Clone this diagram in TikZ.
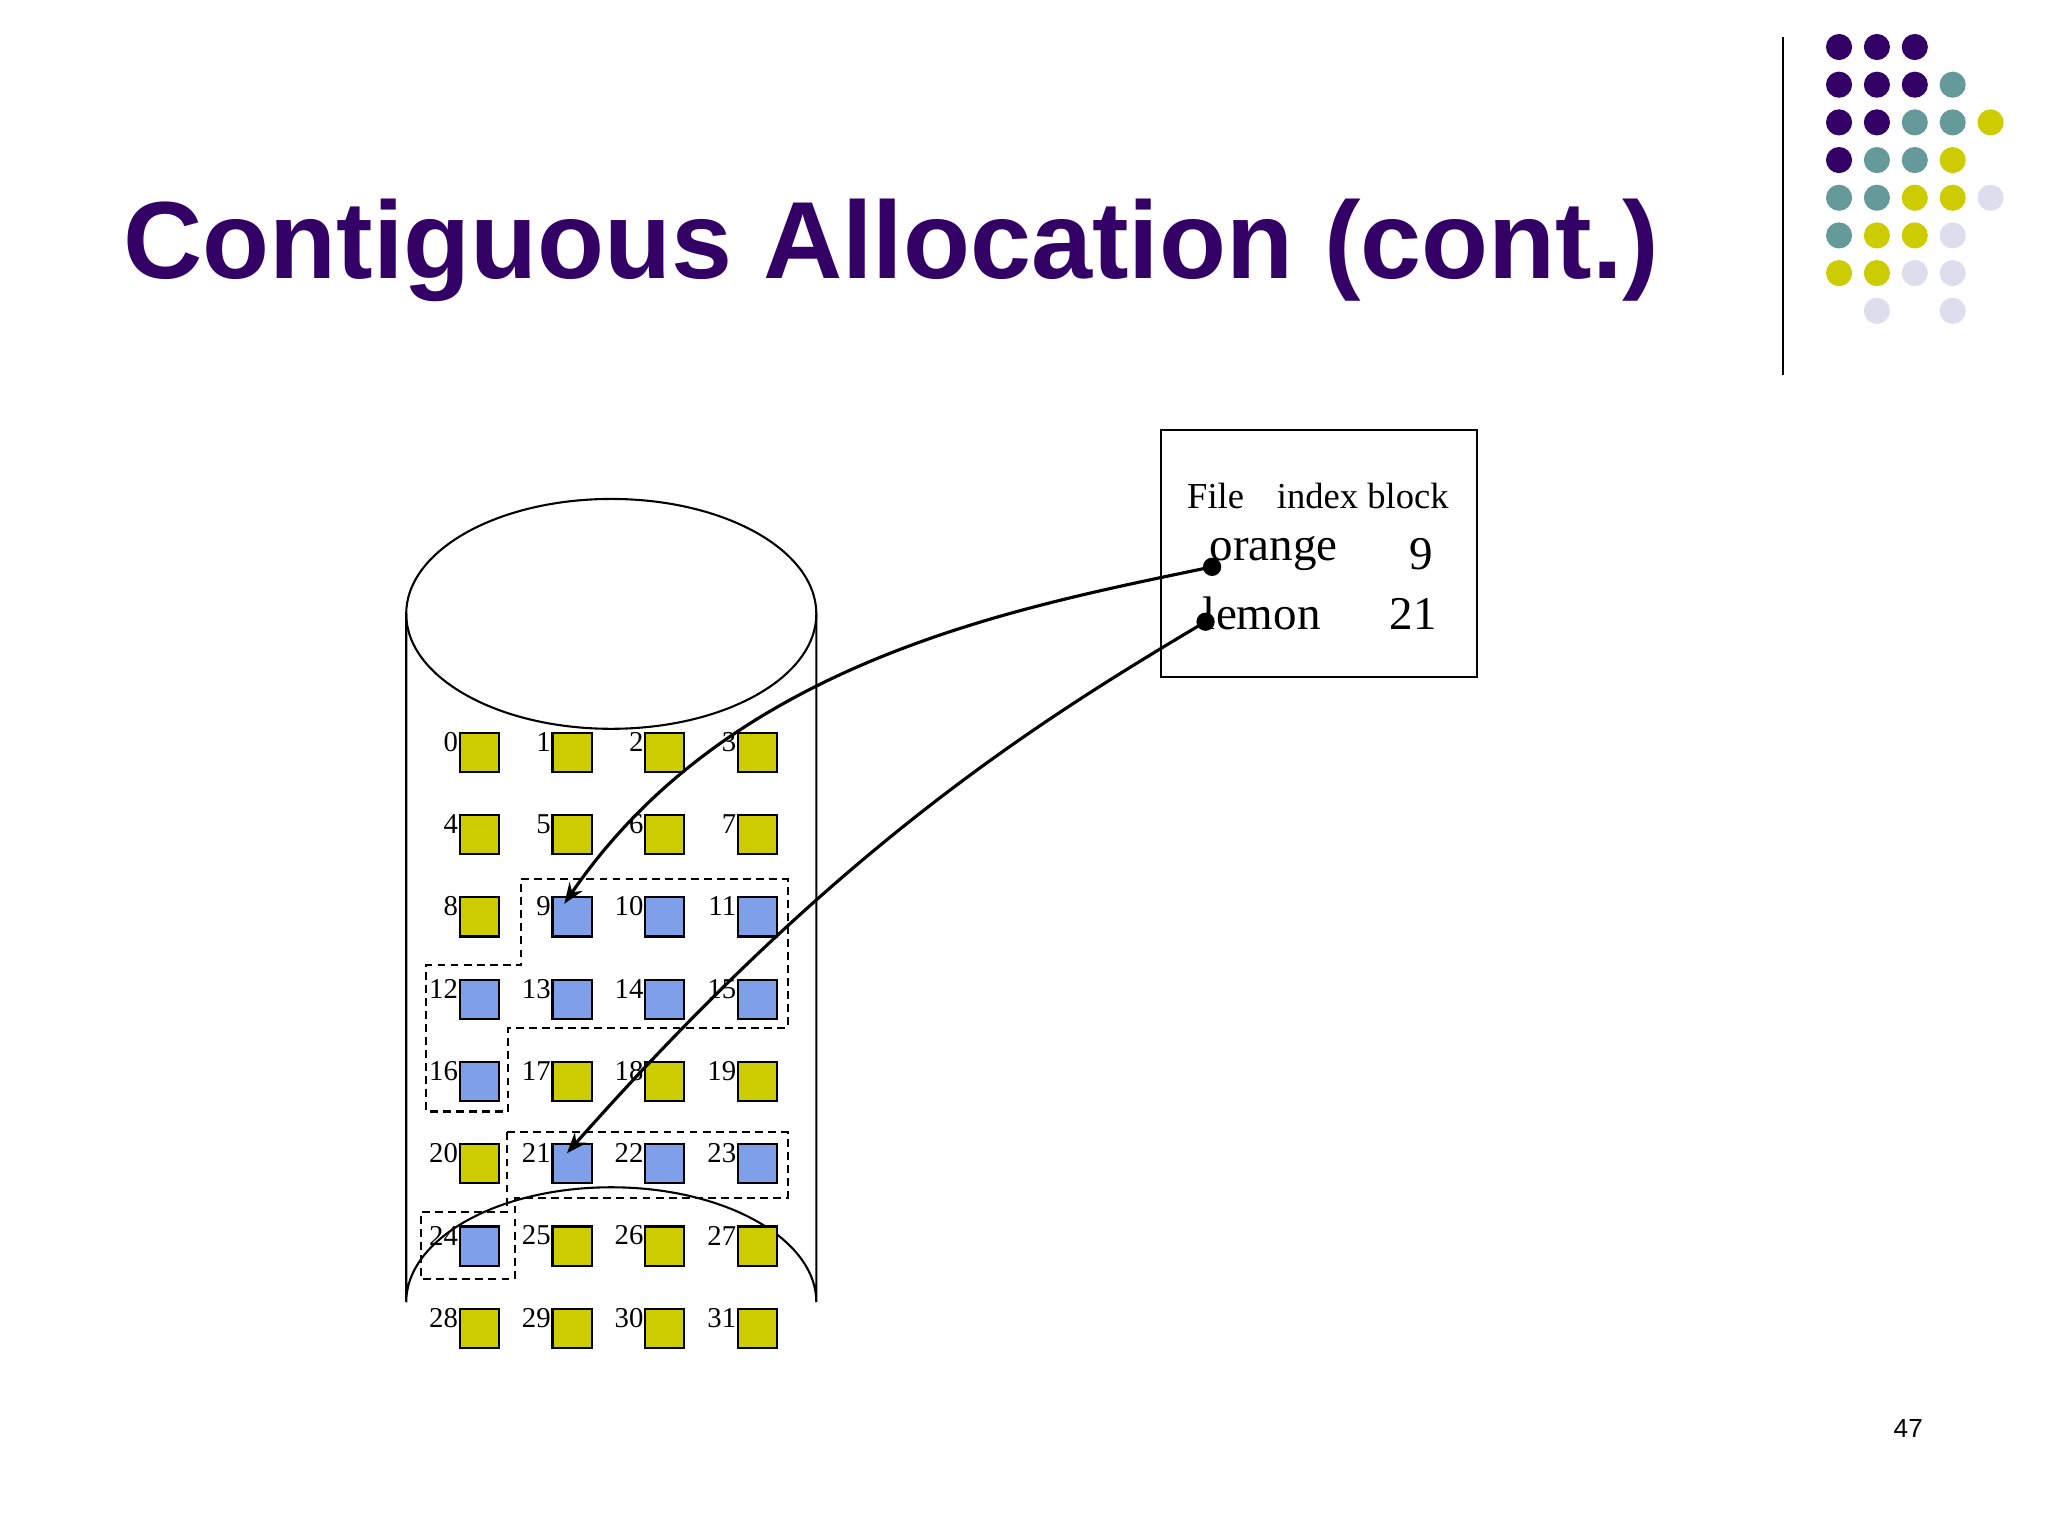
\documentclass[tikz,border=0pt]{standalone}
\usepackage{fontspec}
\setmainfont{Liberation Serif}
\newfontfamily\ttlfont{Liberation Sans}
\usetikzlibrary{calc,arrows.meta}
\definecolor{cpur}{HTML}{330066}
\definecolor{cteal}{HTML}{669999}
\definecolor{cyel}{HTML}{CCCC00}
\definecolor{clav}{HTML}{DDDDEE}
\definecolor{cblue}{HTML}{7F9FE8}
\begin{document}
\begin{tikzpicture}[x=0.5pt,y=-0.5pt,
  blk/.style={draw,line width=0.8pt,minimum size=15pt,inner sep=0pt},
  ylw/.style={blk,fill=cyel},
  blu/.style={blk,fill=cblue},
  num/.style={anchor=east,inner sep=0pt,font=\fontsize{11}{11}\selectfont},
  dot/.style={circle,inner sep=0pt,minimum size=10pt},
  outl/.style={densely dashed,line width=0.8pt},
  arr/.style={line width=1.2pt,-{Stealth[length=8pt,width=6pt]}}]
\useasboundingbox (0,0) rectangle (1568,1176);
\node[anchor=west,text=cpur,font=\ttlfont\bfseries\fontsize{42}{42}\selectfont,inner sep=0pt] (title) at (94,192) {Contiguous Allocation (cont.)};
\draw[line width=1pt] (1365,28) -- (1365,287);
% dots
\foreach \r/\list in {1/{cpur,cpur,cpur},2/{cpur,cpur,cpur,cteal},3/{cpur,cpur,cteal,cteal,cyel},4/{cpur,cteal,cteal,cyel},5/{cteal,cteal,cyel,cyel,clav},6/{cteal,cyel,cyel,clav},7/{cyel,cyel,clav,clav}}{
  \foreach \c [count=\i] in \list {\node[dot,fill=\c] (d\r\i) at ({1408+29*(\i-1)},{36+28.85*(\r-1)}) {};}}
\node[dot,fill=clav] (d82) at (1437,238) {};
\node[dot,fill=clav] (d84) at (1495,238) {};
% cylinder
\draw[line width=0.8pt] (468,470) ellipse (157 and 88);
\draw[line width=0.8pt] (311,470) -- (311,997) arc[start angle=180,end angle=360,x radius=157,y radius=88] -- (625,470);
% blocks
\foreach \n in {0,...,31}{
  \pgfmathtruncatemacro\col{mod(\n,4)}
  \pgfmathtruncatemacro\row{div(\n,4)}
  \pgfmathsetmacro\xx{367+71*\col}
  \pgfmathsetmacro\yy{576+63*\row}
  \ifnum\n>8 \ifnum\n<17 \def\st{blu}\else\def\st{ylw}\fi\else\def\st{ylw}\fi
  \ifnum\n=21 \def\st{blu}\fi
  \ifnum\n=22 \def\st{blu}\fi
  \ifnum\n=23 \def\st{blu}\fi
  \ifnum\n=24 \def\st{blu}\fi
  \node[\st] (b\n) at (\xx,\yy) {};
  \node[num] (l\n) at (\xx-16,\yy-8) {\n};
}
\draw[outl] (399,673) -- (603,673) -- (603,787) -- (389,787) -- (389,851) -- (326,851) -- (326,739) -- (399,739) -- cycle;
\draw[outl] (388,867) -- (603,867) -- (603,917) -- (394,917) -- (394,979) -- (322,979) -- (322,928) -- (388,928) -- cycle;
% index box
\node[draw,line width=0.8pt,minimum width=121pt,minimum height=94.5pt,inner sep=0pt] (ibox) at (1010,423.5) {};
\node[font=\fontsize{14}{14}\selectfont] (hdr) at (1009,380) {File\hspace{0.9em}index block};
\node[font=\fontsize{18}{18}\selectfont] (or) at (975,424) {orange};
\node[font=\fontsize{18}{18}\selectfont] (n9) at (1088,424) {9};
\node[font=\fontsize{18}{18}\selectfont] (le) at (966,470) {lemon};
\node[font=\fontsize{18}{18}\selectfont] (n21) at (1082,470) {21};
\coordinate (p1) at (928,434);
\coordinate (p2) at (923,476);
\fill (p1) circle (7);
\fill (p2) circle (7);
\draw[arr] (p1) .. controls (780,465) and (560,505) .. ($(b9.center)+(-6,-10)$);
\draw[arr] (p2) .. controls (790,555) and (640,650) .. ($(b21.center)+(-4,-8)$);
\node[font=\ttlfont\fontsize{10}{10}\selectfont] (pg) at (1461,1094) {47};
\end{tikzpicture}
\end{document}
